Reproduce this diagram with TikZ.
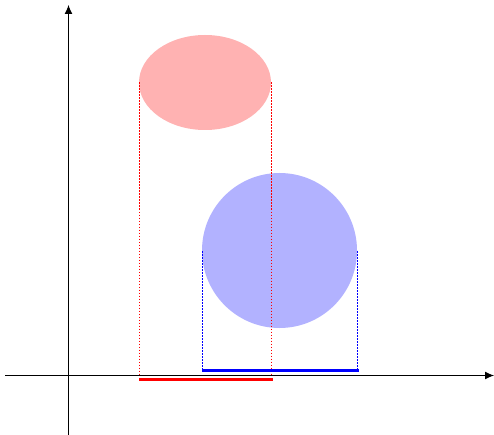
\documentclass[tikz,border=0pt]{standalone}
\usetikzlibrary{arrows.meta}
\begin{document}
\begin{tikzpicture}[x=1pt,y=-1pt,
  axis/.style={line width=1pt,-{Latex[length=9pt,width=8pt]}},
  rdots/.style={draw=red,line width=1.3pt,dash pattern=on 1.5pt off 1.5pt},
  bdots/.style={draw=blue,line width=1.3pt,dash pattern=on 1.5pt off 1.5pt},
  bar/.style={line width=3pt}]
\useasboundingbox (0,0) rectangle (494,435);
\fill[white] (0,0) rectangle (494,435);
% shapes
\coordinate (ec) at (205,82.5);
\coordinate (cc) at (279.5,250.5);
\fill[red!30] (ec) ellipse [x radius=66, y radius=47.5];
\fill[blue!30] (cc) circle [radius=77.5];
% axes
\coordinate (xs) at (5,375.5);
\coordinate (xe) at (494,375.5);
\coordinate (ys) at (68.5,435);
\coordinate (ye) at (68.5,5);
\draw[axis] (xs) -- (xe);
\draw[axis] (ys) -- (ye);
% projection guides
\coordinate (el) at (139.5,82.5);
\coordinate (er) at (271.5,82.5);
\coordinate (elb) at (139.5,375);
\coordinate (erb) at (271.5,375);
\coordinate (cl) at (202.5,251);
\coordinate (cr) at (357.5,251);
\coordinate (clb) at (202.5,370);
\coordinate (crb) at (357.5,370);
\draw[bdots] (cl) -- (clb);
\draw[bdots] (cr) -- (crb);
\draw[rdots] (el) -- (elb);
\draw[rdots] (er) -- (erb);
% projections
\coordinate (rb1) at (139,379.5);
\coordinate (rb2) at (273,379.5);
\coordinate (bb1) at (202,370);
\coordinate (bb2) at (358.5,370);
\draw[bar,red] (rb1) -- (rb2);
\draw[bar,blue] (bb1) -- (bb2);
\end{tikzpicture}
\end{document}
